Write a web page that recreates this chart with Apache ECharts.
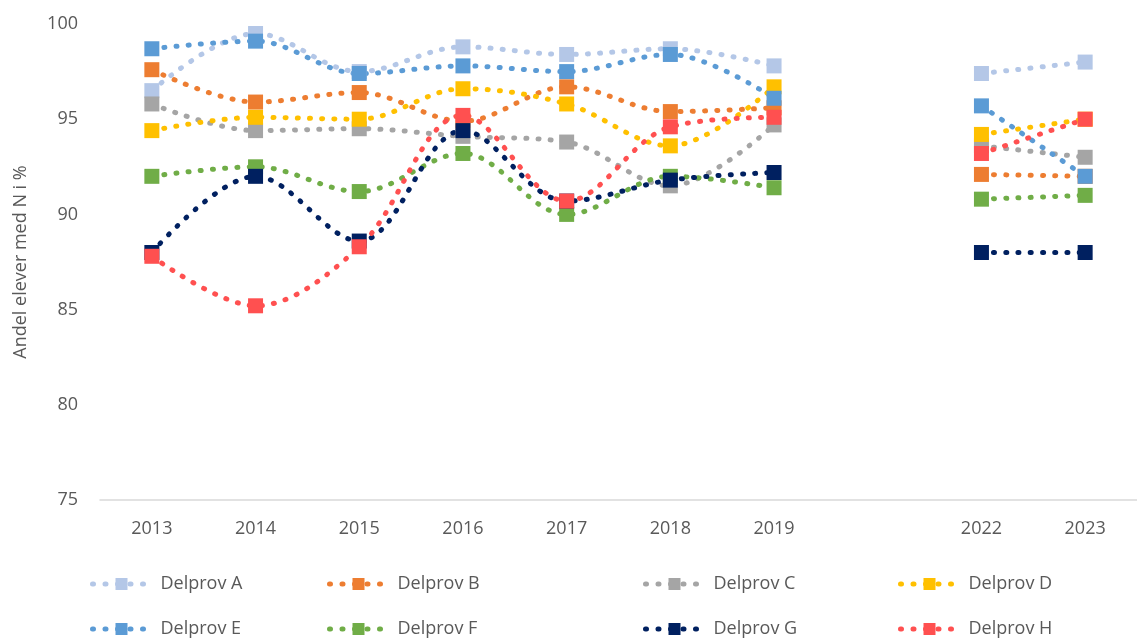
<!DOCTYPE html>
<html lang="sv">
<head>
    <meta charset="UTF-8">
    <script src="https://cdn.jsdelivr.net/npm/echarts@6/dist/echarts.min.js"></script>
    <title>Delprov</title>
    <style>
        body { margin: 0; background: #fff; }
        #main { width: 1137px; height: 640px; }
    </style>
</head>
<body>
    <div id="main"></div>
    <script>
        // kategorier (tom plats for 2020-2021)
        var years = ['2013', '2014', '2015', '2016', '2017', '2018', '2019', '', '2022', '2023'];
        var names = ['Delprov A', 'Delprov B', 'Delprov C', 'Delprov D', 'Delprov E', 'Delprov F', 'Delprov G', 'Delprov H'];
        var colors = ['#B4C7E7', '#ED7D31', '#A5A5A5', '#FFC000', '#5B9BD5', '#70AD47', '#002060', '#FF5050'];

        var delprovA = [96.5, 99.5, 97.5, 98.8, 98.4, 98.7, 97.8, null, 97.4, 98.0];
        var delprovB = [97.6, 95.9, 96.4, 94.9, 96.7, 95.4, 95.6, null, 92.1, 92.0];
        var delprovC = [95.8, 94.4, 94.5, 94.1, 93.8, 91.5, 94.7, null, 93.6, 93.0];
        var delprovD = [94.4, 95.1, 95.0, 96.6, 95.8, 93.6, 96.7, null, 94.2, 95.0];
        var delprovE = [98.7, 99.1, 97.4, 97.8, 97.5, 98.4, 96.1, null, 95.7, 92.0];
        var delprovF = [92.0, 92.5, 91.2, 93.2, 90.0, 92.0, 91.4, null, 90.8, 91.0];
        var delprovG = [88.0, 92.0, 88.6, 94.4, 90.7, 91.8, 92.2, null, 88.0, 88.0];
        var delprovH = [87.8, 85.2, 88.3, 95.2, 90.7, 94.6, 95.1, null, 93.2, 95.0];

        var allData = [delprovA, delprovB, delprovC, delprovD, delprovE, delprovF, delprovG, delprovH];

        var textColor = '#595959';
        var font = '"Open Sans", sans-serif';
        var dotted = [1, 11.2];

        var series = [];
        for (var i = 0; i < names.length; i++) {
            series.push({
                name: names[i],
                type: 'line',
                data: allData[i],
                smooth: 0.35,
                connectNulls: false,
                symbol: 'rect',
                symbolSize: 15,
                showAllSymbol: true,
                color: colors[i],
                lineStyle: {
                    width: 5,
                    type: dotted,
                    cap: 'round'
                },
                itemStyle: { color: colors[i] },
                emphasis: { disabled: true }
            });
        }

        // en legend per post, fyra kolumner x två rader
        var legendLeft = [90, 327, 643, 898];
        var legendTop = [575, 620];
        var legends = [];
        for (var k = 0; k < names.length; k++) {
            legends.push({
                data: [names[k]],
                left: legendLeft[k % 4],
                top: legendTop[Math.floor(k / 4)],
                padding: 0,
                itemWidth: 58,
                itemHeight: 15,
                lineStyle: {
                    color: colors[k],
                    width: 5,
                    type: [1, 11.5],
                    cap: 'round'
                },
                textStyle: { color: textColor, fontSize: 18, fontFamily: font, padding: [0, 0, 0, 5] }
            });
        }

        var chart = echarts.init(document.getElementById('main'));
        var option = {
            animation: false,
            textStyle: { fontFamily: font },
            grid: {
                left: 100,
                top: 24,
                width: 1050,
                bottom: 140
            },
            legend: legends,
            xAxis: {
                type: 'category',
                data: years,
                boundaryGap: true,
                axisLine: { lineStyle: { color: '#D9D9D9', width: 1.5 } },
                axisTick: { show: false },
                axisLabel: { color: textColor, fontSize: 18, margin: 20, interval: 0 },
                splitLine: { show: false }
            },
            yAxis: {
                type: 'value',
                min: 75,
                max: 100,
                interval: 5,
                name: 'Andel elever med N i %',
                nameLocation: 'middle',
                nameGap: 70,
                nameTextStyle: { color: textColor, fontSize: 18 },
                axisLine: { show: false },
                axisTick: { show: false },
                axisLabel: { color: textColor, fontSize: 18, margin: 22 },
                splitLine: { show: false }
            },
            series: series
        };
        chart.setOption(option);
    </script>
</body>
</html>
